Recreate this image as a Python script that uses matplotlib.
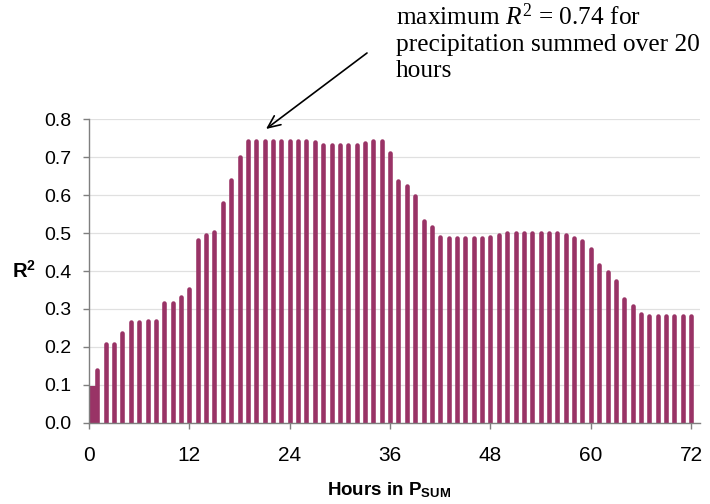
import matplotlib
matplotlib.use('Agg')
import matplotlib.pyplot as plt
import numpy as np

# R^2 of the fit for each summation window (hours 1..72)
hours = np.arange(1, 73)
r2 = [0.140, 0.207, 0.207, 0.236, 0.265, 0.265, 0.269, 0.269, 0.315, 0.315,
      0.332, 0.353, 0.482, 0.494, 0.504, 0.579, 0.641, 0.700, 0.744, 0.744,
      0.744, 0.744, 0.744, 0.744, 0.744, 0.744, 0.740, 0.732, 0.732, 0.732,
      0.732, 0.732, 0.737, 0.744, 0.744, 0.711, 0.637, 0.624, 0.599, 0.532,
      0.516, 0.490, 0.486, 0.486, 0.486, 0.486, 0.486, 0.490, 0.495, 0.499,
      0.499, 0.499, 0.499, 0.499, 0.499, 0.499, 0.494, 0.486, 0.478, 0.457,
      0.415, 0.398, 0.373, 0.327, 0.307, 0.286, 0.281, 0.281, 0.281, 0.281,
      0.281, 0.281]
# partial window before the first full hour
lead_hour = 0.4
lead_r2 = 0.097

xticks = [0, 12, 24, 36, 48, 60, 72]
yticks = [0.0, 0.1, 0.2, 0.3, 0.4, 0.5, 0.6, 0.7, 0.8]
note_lines = ['maximum $R^2$ = 0.74 for',
              'precipitation summed over 20',
              'hours']

bar_color = '#993366'
axis_color = '#7f7f7f'

plt.rcParams['font.family'] = ['Liberation Sans', 'DejaVu Sans']
plt.rcParams['mathtext.fontset'] = 'custom'
plt.rcParams['mathtext.rm'] = 'Liberation Serif'
plt.rcParams['mathtext.it'] = 'Liberation Serif:italic'
plt.rcParams['mathtext.bf'] = 'Liberation Sans:bold'

W, H = 710, 504
fig = plt.figure(figsize=(W / 100, H / 100), dpi=100)
ax = fig.add_axes([89 / W, 1 - 422.7 / H, (700 - 89) / W, (422.7 - 119.3) / H])

ax.set_xlim(0, 73.05)
ax.set_ylim(0, 0.8)

ax.set_yticks(yticks)
ax.grid(axis='y', color='#e0e0e0', linewidth=0.9)
ax.set_axisbelow(True)

ax.bar(lead_hour, lead_r2, width=0.8, color=bar_color, zorder=2)
bars = ax.vlines(hours, 0, r2, colors=bar_color, linewidth=3.3, zorder=2)
bars.set_capstyle('round')

ax.set_xticks(xticks)
ax.set_xticklabels([str(t) for t in xticks])
ax.set_yticklabels(['%.1f' % t for t in yticks])

for side in ['top', 'right']:
    ax.spines[side].set_visible(False)
for side in ['left', 'bottom']:
    ax.spines[side].set_color(axis_color)
    ax.spines[side].set_linewidth(1.0)
    ax.spines[side].set_zorder(3)

ax.tick_params(axis='y', direction='out', length=4, width=1.0, color=axis_color,
               labelsize=14, pad=8.5)
ax.tick_params(axis='x', direction='out', length=4, width=1.0, color=axis_color,
               labelsize=15, pad=12.5)

# axis titles
fig.text(389.5 / W, 1 - 495 / H, r'Hours in $\mathbf{P}_{\mathbf{SUM}}$',
         ha='center', va='baseline', fontsize=13.5, fontweight='bold')
fig.text(12 / W, 1 - 278 / H, r'$\mathbf{R}^{\mathbf{2}}$',
         ha='left', va='baseline', fontsize=14.5)

# annotation for the maximum
for i, line in enumerate(note_lines):
    fig.text(396 / W, 1 - (25 + 26 * i) / H, line, ha='left', va='baseline',
             fontsize=18.3, family='Liberation Serif')
ax.annotate('', xy=(266 / W, 1 - 129 / H), xycoords='figure fraction',
            xytext=(367 / W, 1 - 53 / H), textcoords='figure fraction',
            arrowprops=dict(arrowstyle='->,head_length=0.9,head_width=0.4',
                            color='black', lw=1.2, shrinkA=0, shrinkB=0))

fig.savefig('out.png', dpi=100)
